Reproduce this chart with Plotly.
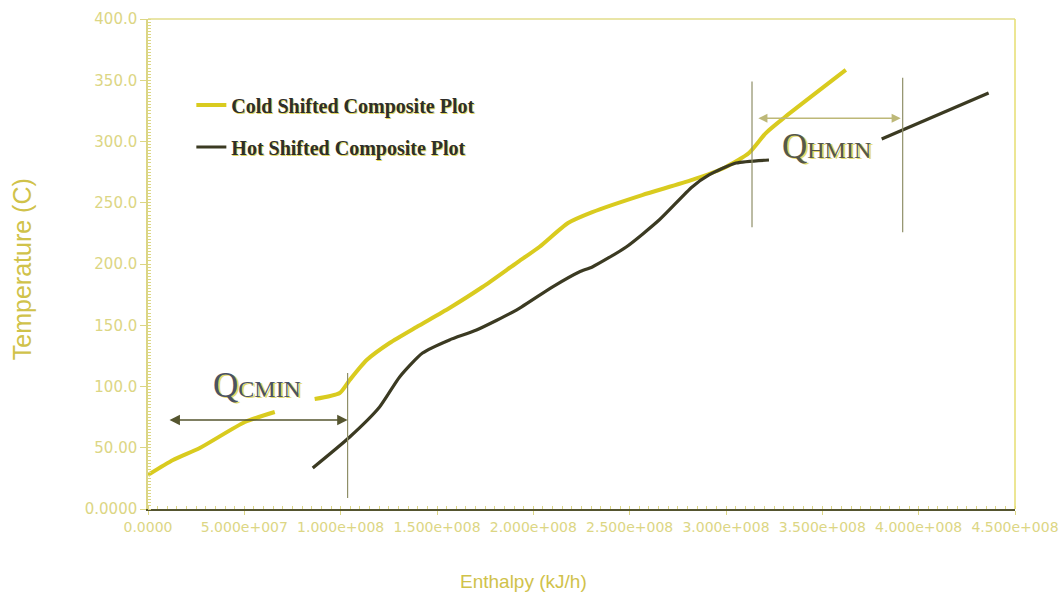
import plotly.graph_objects as go

# ---------------- data ----------------
cold_seg1_h = [0.0, 1.30e7, 2.69e7, 5.03e7, 6.58e7]
cold_seg1_t = [27.8, 40.0, 49.8, 71.0, 79.2]

cold_seg2_h = [8.65e7, 9.95e7, 1.047e8, 1.135e8, 1.254e8, 1.394e8, 1.565e8, 1.736e8,
               1.912e8, 2.031e8, 2.18e8, 2.306e8, 2.565e8, 2.824e8, 3.00e8, 3.119e8,
               3.207e8, 3.30e8, 3.622e8]
cold_seg2_t = [89.8, 94.7, 105.3, 121.6, 135.5, 148.6, 164.1, 181.2,
               200.8, 213.9, 233.5, 242.4, 256.3, 268.6, 279.2, 290.6,
               306.9, 319.2, 358.4]

hot_seg1_h = [8.55e7, 1.047e8, 1.202e8, 1.306e8, 1.425e8, 1.565e8, 1.705e8, 1.912e8,
              2.098e8, 2.238e8, 2.306e8, 2.482e8, 2.653e8, 2.824e8, 2.912e8, 3.052e8,
              3.223e8]
hot_seg1_t = [33.5, 58.8, 83.3, 107.8, 127.3, 138.0, 146.1, 162.4,
              181.2, 193.5, 197.6, 213.9, 235.9, 262.9, 272.7, 282.4,
              284.9]

hot_seg2_h = [3.808e8, 4.363e8]
hot_seg2_t = [302.0, 339.6]

# Q-min markers: vertical guide lines (enthalpy, t_low, t_high)
qcmin_line = [1.036e8, 9.0, 111.0]
qhmin_line_left = [3.135e8, 230.0, 349.0]
qhmin_line_right = [3.917e8, 226.0, 352.0]
# arrows: (h_start, h_end, temperature)
qcmin_arrow = [1.04e7, 1.036e8, 72.6]
qhmin_arrow = [3.16e8, 3.907e8, 319.0]
# label anchor positions (enthalpy, temperature)
qcmin_label = [5.65e7, 101.0]
qhmin_label = [3.52e8, 296.0]

x_tickvals = [0, 5e7, 1e8, 1.5e8, 2e8, 2.5e8, 3e8, 3.5e8, 4e8, 4.5e8]
x_ticktext = ["0.0000", "5.000e+007", "1.000e+008", "1.500e+008", "2.000e+008",
              "2.500e+008", "3.000e+008", "3.500e+008", "4.000e+008", "4.500e+008"]
y_tickvals = [0, 50, 100, 150, 200, 250, 300, 350, 400]
y_ticktext = ["0.0000", "50.00", "100.0", "150.0", "200.0", "250.0", "300.0", "350.0", "400.0"]

# ---------------- styles ----------------
COLD = "#d9cb1f"
HOT = "#3b3a22"
PALE = "#dcd684"
TITLE = "#d0c24a"
GUIDE = "#8f8f68"

cold_h = cold_seg1_h + [None] + cold_seg2_h
cold_t = cold_seg1_t + [None] + cold_seg2_t
hot_h = hot_seg1_h + [None] + hot_seg2_h
hot_t = hot_seg1_t + [None] + hot_seg2_t

fig = go.Figure()
fig.add_trace(go.Scatter(x=cold_h, y=cold_t, mode="lines", name="Cold Shifted Composite Plot",
                         line=dict(color=COLD, width=4, shape="spline", smoothing=0.6),
                         connectgaps=False, legend="legend"))
fig.add_trace(go.Scatter(x=hot_h, y=hot_t, mode="lines", name="Hot Shifted Composite Plot",
                         line=dict(color=HOT, width=3.2, shape="spline", smoothing=0.6),
                         connectgaps=False, legend="legend2"))

for ln in (qcmin_line, qhmin_line_left, qhmin_line_right):
    fig.add_trace(go.Scatter(x=[ln[0], ln[0]], y=[ln[1], ln[2]], mode="lines",
                             line=dict(color=GUIDE, width=1.2), showlegend=False,
                             hoverinfo="skip"))

arrow_common = dict(xref="x", yref="y", axref="x", ayref="y", text="", showarrow=True,
                    arrowhead=2, arrowsize=1.3, arrowside="end+start")
fig.add_annotation(x=qcmin_arrow[1], y=qcmin_arrow[2], ax=qcmin_arrow[0], ay=qcmin_arrow[2],
                   arrowcolor="#55552f", arrowwidth=1.6, **arrow_common)
fig.add_annotation(x=qhmin_arrow[1], y=qhmin_arrow[2], ax=qhmin_arrow[0], ay=qhmin_arrow[2],
                   arrowcolor="#bdb878", arrowwidth=1.4, **arrow_common)

fig.add_annotation(x=qcmin_label[0], y=qcmin_label[1], xref="x", yref="y", showarrow=False,
                   text="Q<span style='font-size:24px'>CMIN</span>",
                   font=dict(family="Liberation Serif", size=35, color="#4b5263",
                             shadow="2px 1px 0px #e4da6a"))
fig.add_annotation(x=qhmin_label[0], y=qhmin_label[1], xref="x", yref="y", showarrow=False,
                   text="Q<span style='font-size:24px'>HMIN</span>",
                   font=dict(family="Liberation Serif", size=35, color="#55574a",
                             shadow="2px 1px 0px #e4da6a"))

# axis titles
fig.add_annotation(x=-0.145, y=0.49, xref="paper", yref="paper", showarrow=False,
                   xanchor="center", yanchor="middle",
                   text="Temperature (C)", textangle=-90,
                   font=dict(family="Liberation Sans", size=25, color=TITLE))
fig.add_annotation(x=0.433, y=-0.147, xref="paper", yref="paper", showarrow=False,
                   xanchor="center", yanchor="middle",
                   text="Enthalpy (kJ/h)",
                   font=dict(family="Liberation Sans", size=19, color=TITLE))

# frame top/right
fig.add_shape(type="line", xref="paper", yref="paper", x0=0, x1=1, y0=1, y1=1,
              line=dict(color="#e2dc8a", width=1.5))
fig.add_shape(type="line", xref="paper", yref="paper", x0=1, x1=1, y0=0, y1=1,
              line=dict(color="#e6de70", width=1.5))

legend_font = dict(family="Liberation Serif", size=20, color="#2e2e2a", weight="bold",
                   shadow="1px 1px 0px #e0d660")
legend_common = dict(bgcolor="rgba(0,0,0,0)", borderwidth=0, font=legend_font,
                     xanchor="left", yanchor="middle", itemwidth=30)

fig.update_layout(
    width=1062, height=595,
    margin=dict(l=148, r=47, t=19, b=86),
    paper_bgcolor="white", plot_bgcolor="white",
    legend=dict(x=0.05, y=0.8245, **legend_common),
    legend2=dict(x=0.05, y=0.7388, **legend_common),
    xaxis=dict(range=[0, 4.5e8], tickvals=x_tickvals, ticktext=x_ticktext, tickangle=0,
               showgrid=False, zeroline=False, showline=True, linecolor="#55552f",
               linewidth=2, ticks="outside", ticklen=4, tickcolor=PALE,
               ticklabeloverflow="allow", automargin=False,
               tickfont=dict(family="DejaVu Sans", size=14, color=PALE),
               minor=dict(dtick=5e6, ticks="inside", ticklen=3, tickcolor=PALE)),
    yaxis=dict(range=[0, 400], tickvals=y_tickvals, ticktext=y_ticktext,
               showgrid=False, zeroline=False, showline=True, linecolor=PALE,
               linewidth=1.5, ticks="outside", ticklen=6, tickcolor=PALE,
               automargin=False,
               tickfont=dict(family="DejaVu Sans", size=15, color=PALE),
               minor=dict(dtick=2.5, ticks="inside", ticklen=3, tickcolor=PALE)),
)

fig.write_html("out.html")
